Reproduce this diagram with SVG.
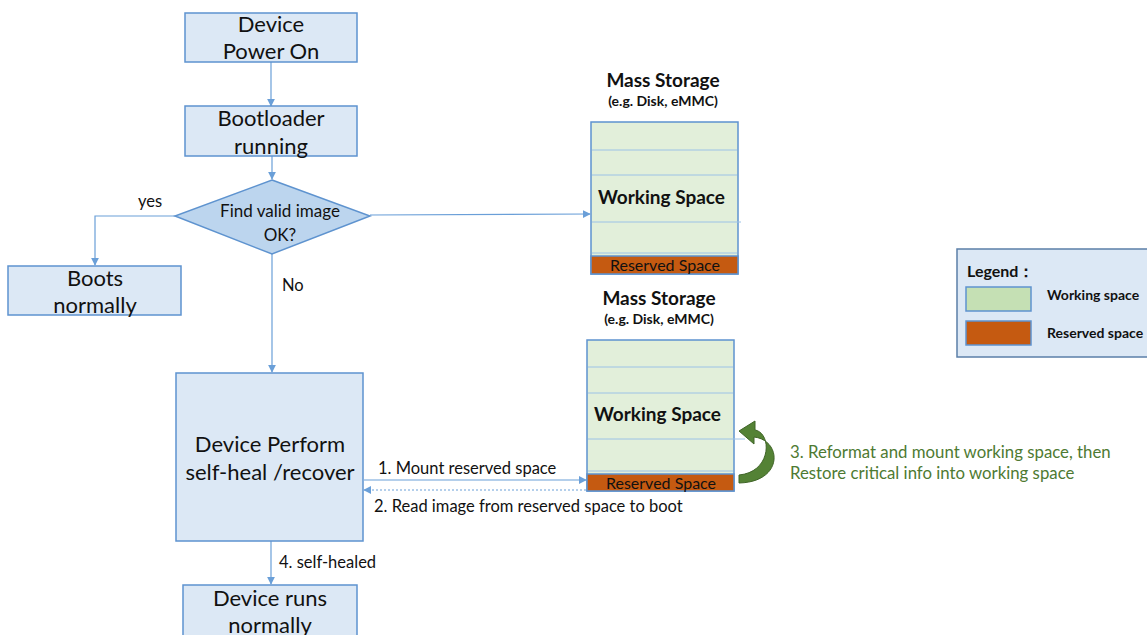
<svg xmlns="http://www.w3.org/2000/svg" width="1147" height="635" viewBox="0 0 1147 635">
  <defs>
    <style>
      text { font-family: Lato, "Open Sans", "Liberation Sans", sans-serif; fill: #111; }
      .box { fill: #dce8f5; stroke: #5e93cf; stroke-width: 1.5; }
      .dec { fill: #bcd5ee; stroke: #5e93cf; stroke-width: 1.5; }
      .store { fill: #e2efda; stroke: #5e93cf; stroke-width: 1.5; }
      .sep { stroke: #9cc2e6; stroke-width: 1; fill: none; }
      .res { fill: #c55a11; stroke: #5e93cf; stroke-width: 1.5; }
      .big { font-size: 22px; text-anchor: middle; }
      .lbl { font-size: 16.5px; }
      .bold { font-weight: bold; }
      .wire { stroke: #6a9fd8; stroke-width: 1.2; fill: none; }
      .dotted { stroke: #6a9fd8; stroke-width: 1.2; fill: none; stroke-dasharray: 2 2; }
      .note { font-size: 16.8px; fill: #4e7a32; }
    </style>
    <marker id="arr" viewBox="0 0 10 10" refX="9" refY="5" markerWidth="8" markerHeight="8" markerUnits="userSpaceOnUse" orient="auto">
      <path d="M0,0 L10,5 L0,10 Z" fill="#6a9fd8"/>
    </marker>
  </defs>

  <!-- connectors -->
  <g id="connectors">
    <line class="wire" x1="271" y1="62" x2="271" y2="106" marker-end="url(#arr)"/>
    <line class="wire" x1="272" y1="156" x2="272" y2="179" marker-end="url(#arr)"/>
    <polyline class="wire" points="175,216 95,216 95,265" marker-end="url(#arr)"/>
    <line class="wire" x1="272" y1="254" x2="272" y2="372" marker-end="url(#arr)"/>
    <line class="wire" x1="370" y1="215" x2="590" y2="214" marker-end="url(#arr)"/>
    <line class="wire" x1="364" y1="480" x2="586" y2="480" marker-end="url(#arr)"/>
    <line class="dotted" x1="586" y1="490" x2="364" y2="490" marker-end="url(#arr)"/>
    <line class="wire" x1="271" y1="541" x2="271" y2="584" marker-end="url(#arr)"/>
    <text class="lbl" x="138" y="207">yes</text>
    <text class="lbl" x="282" y="291">No</text>
    <text class="lbl" x="378" y="474">1. Mount reserved space</text>
    <text class="lbl" x="374" y="512">2. Read image from reserved space to boot</text>
    <text class="lbl" x="279" y="568">4. self-healed</text>
  </g>

  <g id="power-on">
    <rect class="box" x="185" y="13" width="172" height="49"/>
    <text class="big" x="271" y="32">Device</text>
    <text class="big" x="271" y="59">Power On</text>
  </g>

  <g id="bootloader">
    <rect class="box" x="185" y="106" width="172" height="50"/>
    <text class="big" x="271" y="126">Bootloader</text>
    <text class="big" x="271" y="154">running</text>
  </g>

  <g id="find-image">
    <polygon class="dec" points="272,180 370,216 272,254 175,216"/>
    <text x="280" y="217" font-size="17" text-anchor="middle">Find valid image</text>
    <text x="280" y="241" font-size="17" text-anchor="middle">OK?</text>
  </g>

  <g id="boots-normally">
    <rect class="box" x="8" y="266" width="173" height="49"/>
    <text class="big" x="95" y="286">Boots</text>
    <text class="big" x="95" y="313">normally</text>
  </g>

  <g id="self-heal">
    <rect class="box" x="176" y="373" width="187" height="168"/>
    <text class="big" x="270" y="452">Device Perform</text>
    <text class="big" x="270" y="480">self-heal /recover</text>
  </g>

  <g id="runs-normally">
    <rect class="box" x="183" y="585" width="174" height="60"/>
    <text class="big" x="270" y="606">Device runs</text>
    <text class="big" x="270" y="633">normally</text>
  </g>

  <g id="storage-1">
    <text x="663" y="87" font-size="19" text-anchor="middle" class="bold">Mass Storage</text>
    <text x="663" y="106" font-size="14" text-anchor="middle" class="bold">(e.g. Disk, eMMC)</text>
    <rect class="store" x="591" y="122" width="147" height="152"/>
    <line class="sep" x1="592" y1="150" x2="737" y2="150"/>
    <line class="sep" x1="592" y1="175" x2="737" y2="175"/>
    <line class="sep" x1="592" y1="222" x2="741" y2="222"/>
    <line class="sep" x1="592" y1="253" x2="737" y2="253"/>
    <rect class="res" x="591" y="256" width="147" height="18"/>
    <text x="665" y="271" font-size="16" text-anchor="middle">Reserved Space</text>
    <text x="598" y="204" font-size="19" class="bold">Working Space</text>
  </g>

  <g id="storage-2">
    <text x="659" y="305" font-size="19" text-anchor="middle" class="bold">Mass Storage</text>
    <text x="659" y="324" font-size="14" text-anchor="middle" class="bold">(e.g. Disk, eMMC)</text>
    <rect class="store" x="587" y="340" width="147" height="151"/>
    <line class="sep" x1="588" y1="367" x2="733" y2="367"/>
    <line class="sep" x1="588" y1="393" x2="733" y2="393"/>
    <line class="sep" x1="588" y1="439" x2="745" y2="439"/>
    <line class="sep" x1="588" y1="471" x2="733" y2="471"/>
    <rect class="res" x="587" y="474" width="147" height="17"/>
    <text x="661" y="489" font-size="16" text-anchor="middle">Reserved Space</text>
    <text x="594" y="421" font-size="19" class="bold">Working Space</text>
  </g>

  <g id="reformat">
    <path d="M739,483 C784,482 782,440 754,437 L754,444 L739,431 L755,421 L755,430 C772,433 772,472 739,475 Z" fill="#548235" stroke="#3f6427" stroke-width="1"/>
    <text class="note" x="790" y="458">3. Reformat and mount working space, then</text>
    <text class="note" x="790" y="479">Restore critical info into working space</text>
  </g>

  <g id="legend">
    <rect x="957" y="249" width="200" height="108" fill="#dce8f5" stroke="#5b7fa8" stroke-width="1.5"/>
    <text x="967" y="277" font-size="16" class="bold">Legend：</text>
    <rect x="966" y="287" width="65" height="24" fill="#c5e0b4" stroke="#5e93cf" stroke-width="1.5"/>
    <text x="1047" y="300" font-size="14" class="bold">Working space</text>
    <rect x="966" y="321" width="65" height="24" fill="#c55a11" stroke="#5e93cf" stroke-width="1.5"/>
    <text x="1047" y="338" font-size="14" class="bold">Reserved space</text>
  </g>
</svg>
